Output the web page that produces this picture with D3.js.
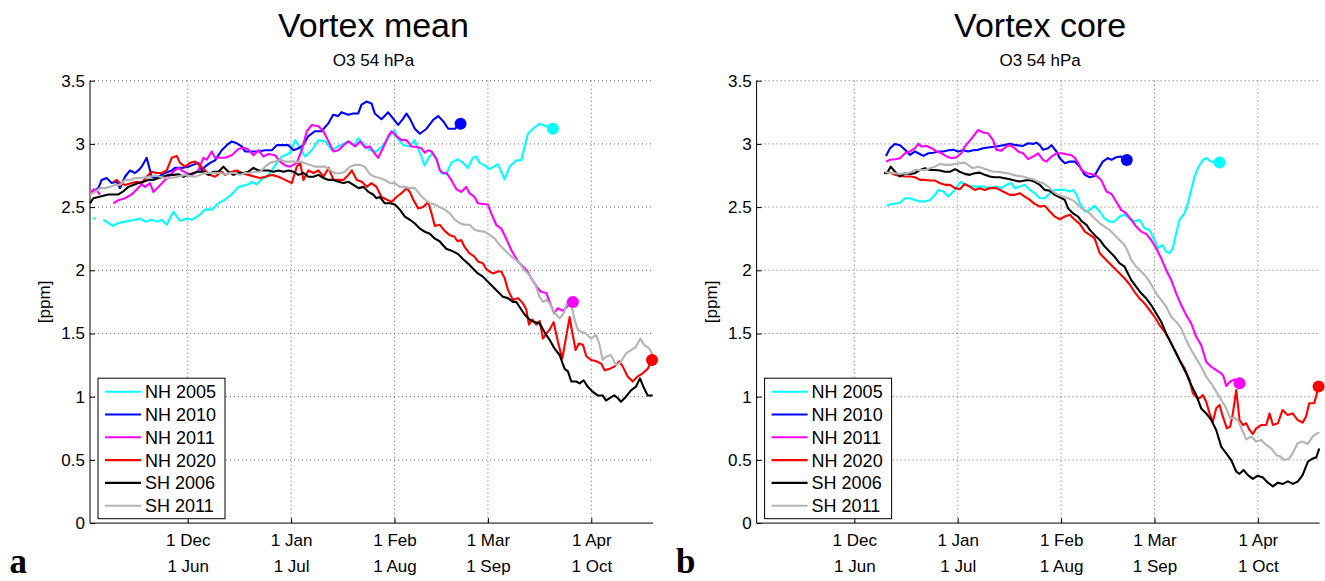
<!DOCTYPE html>
<html>
<head>
<meta charset="utf-8">
<script src="https://cdn.jsdelivr.net/npm/d3@7/dist/d3.min.js"></script>
<style>
  body { margin: 0; background: #fff; }
  text { font-family: "Liberation Sans", Arial, sans-serif; fill: #000; }
  text.letter { font-family: "Liberation Serif", "DejaVu Serif", serif; font-weight: bold; }
</style>
</head>
<body>
<svg id="fig" width="1325" height="581"></svg>
<script>
// x values are days after 1 Dec (NH) / 1 Jun (SH), y values in ppm
// null marks a gap in the record

// ---- Vortex mean ----
const meanNH2005 = [[-28.5,2.41],[-27.5,2.41],[-26.5,null],[-25.3,2.40],[-22.3,2.35],[-21.3,2.37],[-18.8,2.385],[-15.8,2.40],[-14.3,2.41],[-12.8,2.385],[-10.8,2.40],[-9.3,2.385],[-7.8,2.40],[-6.3,2.36],[-4.3,2.465],[-2.3,2.39],[-0.3,2.41],[1.2,2.40],[3.2,2.43],[5.2,2.48],[7.2,2.48],[9.2,2.53],[11.2,2.56],[13.2,2.60],[15.2,2.66],[16.7,2.67],[18.2,2.68],[19.2,2.70],[20.7,2.68],[22.2,2.72],[23.7,2.74],[25.2,2.79],[26.7,2.85],[28.2,2.90],[29.2,2.91],[30.7,2.93],[32.2,3.03],[33.2,2.99],[35.2,2.90],[37.2,2.95],[39.2,3.03],[41.2,3.02],[43.2,2.95],[45.1,2.98],[48.1,3.02],[50.1,2.99],[51.1,3.045],[53.1,2.99],[54.6,2.95],[56.6,2.94],[58.6,2.99],[60.5,3.06],[62.0,3.11],[63.0,3.04],[64.6,2.99],[66.6,2.98],[68.0,3.03],[69.6,2.93],[71.0,2.83],[72.5,2.90],[73.5,2.93],[74.5,2.88],[76.0,2.77],[77.5,2.76],[79.0,2.85],[81.0,2.88],[82.5,2.85],[84.0,2.81],[85.5,2.89],[86.5,2.90],[87.5,2.85],[89.0,2.83],[90.5,2.80],[93.0,2.84],[94.0,2.78],[95.0,2.72],[96.5,2.82],[98.5,2.87],[100.0,2.87],[102.0,3.08],[103.5,3.12],[105.5,3.16],[107.5,3.14],[109.5,3.12]];
const meanNH2010 = [[-28.8,2.62],[-26.8,2.65],[-25.8,2.715],[-24.3,2.73],[-22.8,2.69],[-21.3,2.70],[-20.3,2.65],[-18.8,2.74],[-17.3,2.79],[-15.8,2.77],[-14.8,2.79],[-13.8,2.82],[-12.3,2.89],[-10.8,2.74],[-9.8,2.73],[-8.8,2.74],[-6.8,2.77],[-4.8,2.79],[-3.8,2.81],[-1.8,2.81],[0.2,2.82],[1.2,2.83],[3.2,2.85],[4.2,2.79],[5.2,2.82],[6.7,2.85],[8.2,2.87],[10.2,2.95],[11.7,2.99],[13.2,3.02],[14.7,3.005],[16.2,2.98],[17.2,2.94],[19.2,2.94],[21.2,2.94],[23.2,2.95],[25.2,2.95],[26.7,2.99],[28.7,2.99],[30.2,2.99],[31.7,2.95],[33.2,2.965],[34.6,2.99],[36.1,3.06],[38.1,3.10],[40.1,3.10],[42.1,3.16],[43.6,3.23],[45.1,3.22],[46.1,3.25],[48.1,3.23],[49.6,3.24],[51.1,3.24],[52.1,3.31],[53.6,3.335],[55.1,3.32],[56.1,3.24],[58.1,3.195],[60.1,3.25],[61.6,3.20],[63.1,3.15],[64.6,3.20],[65.6,3.24],[66.6,3.20],[68.1,3.12],[69.6,3.08],[71.6,3.12],[73.6,3.19],[75.1,3.22],[76.6,3.18],[78.1,3.12],[80.1,3.12],[81.8,3.16]];
const meanNH2011 = [[-29.0,2.61],[-28.3,2.64],[-27.3,2.63],[-26.3,2.60],[-24.5,null],[-22.3,2.53],[-20.8,2.555],[-18.8,2.57],[-16.8,2.60],[-15.3,2.64],[-13.8,2.68],[-12.8,2.66],[-11.3,2.69],[-10.3,2.62],[-8.8,2.66],[-7.3,2.70],[-5.8,2.74],[-4.3,2.78],[-2.8,2.81],[-1.8,2.79],[-0.3,2.77],[1.2,2.755],[3.2,2.79],[4.7,2.89],[5.7,2.875],[7.2,2.94],[8.2,2.89],[9.7,2.89],[11.2,2.89],[13.2,2.91],[15.2,2.96],[16.7,2.97],[18.2,2.955],[19.7,2.91],[21.2,2.95],[22.7,2.90],[24.2,2.92],[26.2,2.91],[27.7,2.86],[29.2,2.83],[30.7,2.82],[32.7,2.85],[34.2,2.95],[35.7,3.10],[37.2,3.15],[39.2,3.14],[40.7,3.10],[42.2,3.02],[43.7,2.94],[45.2,2.95],[46.7,2.99],[48.2,3.02],[50.2,2.98],[51.7,3.02],[53.2,2.97],[54.6,2.98],[55.6,2.94],[57.1,2.89],[58.6,2.97],[60.1,3.06],[61.1,3.10],[62.6,3.06],[64.1,3.03],[65.6,3.03],[67.1,2.98],[68.6,2.975],[70.1,2.965],[71.1,2.93],[72.1,2.95],[73.1,2.94],[74.6,2.88],[75.6,2.79],[76.6,2.77],[77.6,2.77],[79.0,2.715],[80.6,2.64],[82.0,2.62],[83.5,2.66],[84.5,2.61],[86.0,2.58],[87.0,2.53],[88.5,2.525],[90.0,2.52],[91.0,2.45],[92.5,2.36],[94.0,2.33],[95.5,2.25],[97.0,2.16],[99.0,2.07],[100.5,2.03],[101.9,1.99],[103.4,1.92],[104.9,1.86],[105.9,1.83],[107.5,1.82],[108.5,1.75],[109.9,1.66],[110.9,1.70],[112.5,1.68],[114.0,1.72],[115.5,1.75]];
const meanNH2020 = [[-22.3,2.70],[-21.3,2.715],[-20.3,2.69],[-18.8,2.675],[-16.8,2.69],[-15.3,2.70],[-13.8,2.69],[-12.3,2.74],[-10.8,2.78],[-9.3,2.77],[-7.8,2.77],[-6.3,2.79],[-4.8,2.89],[-3.3,2.905],[-2.3,2.85],[-0.8,2.82],[0.7,2.85],[2.2,2.86],[3.7,2.83],[5.2,2.79],[6.7,2.755],[8.2,2.74],[10.2,2.78],[11.2,2.755],[13.2,2.78],[14.7,2.79],[16.2,2.77],[18.2,2.755],[20.2,2.74],[21.7,2.73],[23.2,2.74],[25.2,2.755],[27.2,2.74],[29.2,2.715],[31.2,2.69],[32.7,2.82],[33.7,2.85],[34.7,2.715],[36.2,2.79],[37.7,2.77],[39.2,2.79],[40.7,2.74],[42.2,2.81],[43.7,2.715],[45.2,2.715],[46.7,2.715],[48.2,2.755],[49.2,2.79],[50.7,2.715],[52.2,2.70],[53.7,2.66],[55.1,2.69],[56.6,2.66],[58.1,2.58],[59.6,2.56],[61.1,2.54],[62.6,2.58],[64.1,2.61],[65.6,2.65],[66.6,2.62],[67.6,2.56],[69.1,2.49],[70.6,2.50],[72.1,2.54],[73.1,2.45],[74.1,2.35],[75.6,2.36],[77.1,2.31],[78.5,2.28],[80.0,2.265],[80.9,2.23],[82.0,2.24],[82.9,2.19],[84.4,2.135],[85.9,2.11],[87.0,2.07],[88.5,2.055],[89.5,2.01],[90.5,1.99],[91.5,1.975],[93.0,1.99],[94.0,1.99],[95.0,1.94],[96.0,1.845],[97.5,1.765],[99.0,1.78],[100.5,1.74],[101.5,1.69],[102.3,1.57],[103.3,1.61],[104.5,1.57],[105.5,1.60],[106.5,1.46],[107.5,1.50],[108.5,1.53],[109.7,1.59],[111.0,1.435],[112.3,1.30],[113.3,1.45],[114.5,1.63],[115.3,1.51],[116.3,1.37],[117.3,1.42],[118.5,1.41],[119.5,1.32],[121.0,1.29],[122.5,1.28],[124.0,1.26],[125.0,1.21],[126.5,1.22],[128.0,1.24],[129.4,1.28],[130.4,1.24],[131.9,1.16],[133.4,1.12],[134.9,1.16],[136.4,1.185],[137.9,1.22],[139.2,1.29]];
const meanSH2006 = [[-29.3,2.53],[-28.3,2.57],[-26.8,2.58],[-25.3,2.59],[-23.8,2.60],[-22.3,2.60],[-20.8,2.60],[-19.3,2.625],[-17.8,2.66],[-16.3,2.675],[-14.8,2.69],[-13.3,2.70],[-11.8,2.715],[-10.3,2.715],[-8.8,2.73],[-7.3,2.74],[-5.8,2.755],[-4.3,2.755],[-2.8,2.76],[-1.3,2.74],[0.2,2.755],[1.7,2.77],[3.2,2.78],[4.7,2.78],[6.2,2.755],[7.7,2.78],[9.2,2.78],[10.7,2.82],[12.2,2.78],[13.7,2.755],[15.2,2.77],[16.7,2.77],[18.2,2.78],[19.7,2.81],[21.2,2.79],[22.7,2.79],[24.2,2.79],[25.7,2.78],[27.2,2.79],[28.7,2.78],[30.2,2.79],[31.7,2.78],[33.2,2.755],[34.7,2.77],[36.2,2.74],[37.7,2.74],[39.2,2.755],[40.7,2.73],[42.2,2.715],[43.7,2.715],[45.2,2.70],[46.7,2.69],[48.2,2.70],[49.7,2.675],[51.2,2.65],[52.7,2.66],[54.2,2.62],[55.6,2.60],[56.6,2.57],[57.6,2.58],[59.1,2.53],[60.6,2.53],[62.1,2.52],[63.6,2.48],[65.1,2.425],[66.6,2.40],[68.1,2.37],[69.6,2.33],[71.1,2.305],[72.6,2.29],[74.1,2.25],[75.5,2.23],[77.5,2.17],[79.5,2.15],[81.0,2.13],[82.5,2.09],[84.0,2.055],[85.5,2.015],[87.0,1.975],[88.5,1.95],[90.0,1.91],[91.5,1.87],[93.0,1.83],[94.5,1.79],[96.0,1.78],[97.5,1.75],[98.5,1.75],[99.5,1.71],[101.0,1.65],[102.5,1.61],[104.0,1.59],[105.5,1.58],[107.0,1.51],[108.5,1.45],[110.0,1.38],[111.5,1.33],[113.0,1.22],[114.0,1.20],[115.0,1.12],[116.5,1.12],[117.5,1.105],[118.7,1.13],[119.9,1.08],[121.4,1.04],[122.9,1.01],[124.4,1.01],[125.4,0.97],[126.6,0.99],[127.9,1.01],[128.9,0.99],[129.9,0.96],[131.4,1.0],[132.9,1.05],[134.4,1.08],[135.6,1.145],[136.6,1.08],[137.9,1.01],[139.4,1.01]];
const meanSH2011 = [[-29.3,2.60],[-27.8,2.62],[-26.3,2.65],[-24.8,2.65],[-23.3,2.66],[-21.8,2.675],[-20.3,2.675],[-18.8,2.715],[-17.3,2.715],[-15.8,2.73],[-14.3,2.73],[-12.8,2.735],[-11.3,2.74],[-9.8,2.75],[-8.3,2.74],[-6.8,2.73],[-5.3,2.73],[-3.8,2.735],[-2.3,2.745],[-0.8,2.755],[0.7,2.745],[2.2,2.74],[3.7,2.755],[5.2,2.77],[6.7,2.77],[8.2,2.77],[9.7,2.77],[11.2,2.76],[12.7,2.77],[14.2,2.77],[15.7,2.755],[17.2,2.77],[18.7,2.77],[20.2,2.78],[21.7,2.78],[23.2,2.82],[24.7,2.85],[26.2,2.86],[27.7,2.875],[29.2,2.86],[30.7,2.86],[32.2,2.86],[33.7,2.86],[35.2,2.847],[36.7,2.834],[38.2,2.82],[39.7,2.82],[41.2,2.82],[42.6,2.794],[44.1,2.768],[45.6,2.768],[47.1,2.78],[48.6,2.82],[50.1,2.834],[51.6,2.834],[53.1,2.82],[54.6,2.76],[56.1,2.74],[57.6,2.73],[59.1,2.715],[60.6,2.69],[62.1,2.69],[63.6,2.66],[65.1,2.66],[66.6,2.65],[68.1,2.65],[69.6,2.60],[71.1,2.56],[72.6,2.53],[74.1,2.52],[75.6,2.50],[77.1,2.48],[78.6,2.45],[80.1,2.40],[81.6,2.373],[83.0,2.36],[84.5,2.36],[86.0,2.32],[87.5,2.31],[89.0,2.306],[90.5,2.28],[92.0,2.253],[93.5,2.20],[95.0,2.16],[96.5,2.12],[98.0,2.09],[99.5,2.055],[101.0,2.0],[102.5,1.96],[103.5,1.92],[104.5,1.87],[105.5,1.79],[106.5,1.75],[107.5,1.765],[108.5,1.74],[109.5,1.686],[110.5,1.65],[111.5,1.62],[112.7,1.66],[114.0,1.765],[115.0,1.725],[116.0,1.606],[117.0,1.527],[117.9,1.514],[119.4,1.50],[120.9,1.46],[122.4,1.487],[123.4,1.42],[124.4,1.29],[125.4,1.316],[126.9,1.329],[128.4,1.25],[129.9,1.276],[131.4,1.342],[132.9,1.369],[134.4,1.395],[135.7,1.46],[136.9,1.408],[138.4,1.382],[139.4,1.33]];

// ---- Vortex core ----
const coreNH2005 = [[9.7,2.51],[11.2,2.525],[12.7,2.53],[13.7,2.535],[15.2,2.57],[16.7,2.57],[18.2,2.557],[19.7,2.544],[21.2,2.544],[22.7,2.557],[24.2,2.597],[25.2,2.636],[26.7,2.623],[28.2,2.583],[29.7,2.623],[31.1,2.676],[32.1,2.70],[33.1,2.676],[34.6,2.668],[36.6,2.662],[38.6,2.662],[40.6,2.65],[42.6,2.662],[44.1,2.65],[45.6,2.676],[47.1,2.689],[48.1,2.65],[49.6,2.662],[51.1,2.676],[52.6,2.636],[54.1,2.61],[55.6,2.57],[57.1,2.57],[58.6,2.61],[60.1,2.636],[61.6,2.636],[63.1,2.636],[64.6,2.623],[65.6,2.636],[66.6,2.60],[67.6,2.53],[69.1,2.465],[70.6,2.478],[72.0,2.51],[73.6,2.465],[75.0,2.41],[76.5,2.385],[78.0,2.385],[79.5,2.425],[81.0,2.44],[82.5,2.41],[84.0,2.386],[85.5,2.40],[87.0,2.333],[88.5,2.32],[90.0,2.24],[91.0,2.175],[92.3,2.20],[93.5,2.148],[94.5,2.135],[95.5,2.175],[96.5,2.293],[97.5,2.40],[99.0,2.45],[100.0,2.53],[101.0,2.636],[102.0,2.74],[103.0,2.807],[104.5,2.873],[105.5,2.887],[107.0,2.86],[109.5,2.852]];
const coreNH2010 = [[9.5,2.905],[10.7,2.966],[12.2,3.0],[13.7,2.99],[15.2,2.953],[16.7,2.913],[18.2,2.94],[19.2,2.926],[20.7,2.905],[22.2,2.926],[23.7,2.93],[25.2,2.94],[26.7,2.94],[28.2,2.95],[29.7,2.953],[31.1,2.94],[32.6,2.95],[34.1,2.94],[35.6,2.95],[37.1,2.953],[38.6,2.966],[40.6,2.974],[42.6,2.979],[44.6,2.99],[46.6,3.0],[48.6,2.99],[50.6,2.984],[52.1,3.005],[53.6,3.0],[54.6,3.01],[55.6,2.99],[56.6,2.953],[58.1,2.966],[59.1,2.99],[60.6,2.94],[61.6,2.886],[63.1,2.847],[64.6,2.86],[66.1,2.86],[67.6,2.82],[69.1,2.755],[70.6,2.736],[72.0,2.747],[73.0,2.794],[74.5,2.86],[76.0,2.887],[77.1,2.874],[78.5,2.894],[80.0,2.90],[81.7,2.873]];
const coreNH2011 = [[9.5,2.86],[10.7,2.874],[12.2,2.879],[13.7,2.887],[15.2,2.926],[16.7,2.94],[18.2,2.966],[19.2,3.0],[20.2,2.979],[21.7,2.984],[23.2,2.966],[24.7,2.94],[26.2,2.926],[27.7,2.90],[29.2,2.887],[30.6,2.894],[32.1,2.926],[33.1,2.979],[34.6,3.026],[35.6,3.058],[37.1,3.11],[38.6,3.09],[40.1,3.084],[41.6,3.03],[42.6,2.953],[44.1,2.947],[45.6,2.979],[46.6,2.99],[48.1,2.966],[49.1,2.94],[50.6,2.926],[52.1,2.879],[53.6,2.90],[55.1,2.926],[56.6,2.873],[57.6,2.86],[59.1,2.90],[60.6,2.926],[62.1,2.926],[63.6,2.918],[65.1,2.91],[66.1,2.89],[67.1,2.85],[68.1,2.794],[69.6,2.768],[71.1,2.762],[72.6,2.747],[74.0,2.715],[75.6,2.623],[77.1,2.604],[78.5,2.544],[80.0,2.478],[81.5,2.451],[83.0,2.40],[84.5,2.346],[86.0,2.306],[87.5,2.288],[89.0,2.24],[90.5,2.175],[92.0,2.095],[93.5,2.003],[95.0,1.924],[96.5,1.818],[98.0,1.725],[99.5,1.646],[101.0,1.58],[102.5,1.474],[104.0,1.408],[105.5,1.276],[107.0,1.237],[108.5,1.21],[110.0,1.184],[110.7,1.16],[111.5,1.085],[112.7,1.12],[114.0,1.137],[115.5,1.106]];
const coreNH2020 = [[9.5,2.768],[10.7,2.773],[12.2,2.755],[13.7,2.747],[15.2,2.742],[16.7,2.742],[18.2,2.736],[19.7,2.715],[21.2,2.715],[22.7,2.71],[24.2,2.71],[25.7,2.689],[27.2,2.676],[28.7,2.676],[30.2,2.65],[31.6,2.642],[33.1,2.683],[34.6,2.662],[36.1,2.636],[37.6,2.65],[39.1,2.636],[40.6,2.65],[42.6,2.65],[44.6,2.623],[46.6,2.597],[48.1,2.597],[49.6,2.61],[51.1,2.583],[52.6,2.557],[54.1,2.525],[55.6,2.504],[57.1,2.51],[58.6,2.465],[60.1,2.425],[61.6,2.404],[63.1,2.425],[64.6,2.44],[66.1,2.40],[67.6,2.367],[69.1,2.306],[70.6,2.28],[72.0,2.254],[73.6,2.135],[75.0,2.095],[76.5,2.056],[78.0,2.016],[79.5,1.977],[81.0,1.937],[82.5,1.89],[84.0,1.83],[85.5,1.778],[87.0,1.738],[88.5,1.686],[90.0,1.633],[91.5,1.567],[93.0,1.514],[94.5,1.448],[96.0,1.369],[97.5,1.29],[99.0,1.224],[100.5,1.132],[101.5,1.027],[102.5,1.0],[103.5,0.987],[104.5,1.013],[105.5,0.96],[106.5,0.868],[107.5,0.802],[108.5,0.908],[109.5,0.934],[110.5,0.842],[111.7,0.75],[112.7,0.763],[113.5,0.868],[114.5,1.053],[115.5,0.816],[116.5,0.776],[117.5,0.79],[118.5,0.737],[119.5,0.705],[120.5,0.75],[122.0,0.776],[123.5,0.776],[124.5,0.868],[125.5,0.776],[127.0,0.79],[128.4,0.895],[129.9,0.855],[131.4,0.868],[132.9,0.816],[134.4,0.795],[135.4,0.842],[136.4,0.948],[137.9,0.948],[138.4,1.0],[139.2,1.08]];
const coreSH2006 = [[8.9,2.768],[9.9,2.773],[10.9,2.82],[12.2,2.78],[13.7,2.742],[15.2,2.768],[16.7,2.763],[18.2,2.768],[19.7,2.794],[21.2,2.807],[22.7,2.794],[24.2,2.794],[25.7,2.789],[27.2,2.78],[28.7,2.78],[30.2,2.80],[31.6,2.78],[33.1,2.763],[34.6,2.755],[36.1,2.768],[37.6,2.773],[39.1,2.755],[40.6,2.742],[42.1,2.736],[43.6,2.736],[45.1,2.728],[46.6,2.72],[48.1,2.71],[49.6,2.702],[51.1,2.71],[52.6,2.715],[54.1,2.70],[55.6,2.676],[57.1,2.636],[58.6,2.63],[60.1,2.597],[61.6,2.578],[63.1,2.557],[64.1,2.49],[65.6,2.45],[67.1,2.425],[68.1,2.39],[69.6,2.36],[70.6,2.32],[72.0,2.28],[73.6,2.24],[75.0,2.19],[76.5,2.148],[78.0,2.109],[79.5,2.056],[81.0,2.03],[82.0,1.977],[83.0,1.924],[84.5,1.87],[86.0,1.818],[87.5,1.778],[89.0,1.725],[90.5,1.66],[92.0,1.593],[93.5,1.501],[95.0,1.422],[96.5,1.343],[98.0,1.263],[99.5,1.185],[101.0,1.092],[102.5,1.013],[104.0,0.907],[105.5,0.868],[107.0,0.816],[108.5,0.737],[110.0,0.605],[111.5,0.552],[113.0,0.499],[114.5,0.407],[115.5,0.39],[116.7,0.42],[118.0,0.38],[119.5,0.35],[121.0,0.375],[122.5,0.36],[124.0,0.32],[125.5,0.29],[127.0,0.32],[128.5,0.31],[130.0,0.33],[131.5,0.31],[133.0,0.33],[134.4,0.38],[136.0,0.486],[137.5,0.512],[138.5,0.52],[139.4,0.59]];
const coreSH2011 = [[9.2,2.78],[10.7,2.768],[12.2,2.768],[13.7,2.763],[15.2,2.768],[16.7,2.773],[18.2,2.794],[19.7,2.794],[21.2,2.794],[22.7,2.807],[24.2,2.82],[25.7,2.842],[27.2,2.834],[28.7,2.834],[30.2,2.842],[31.6,2.847],[33.1,2.852],[34.1,2.834],[35.6,2.807],[37.1,2.82],[38.6,2.807],[40.1,2.794],[41.6,2.78],[43.1,2.78],[44.6,2.773],[46.1,2.768],[47.6,2.755],[49.1,2.747],[50.6,2.742],[52.1,2.728],[53.6,2.72],[55.1,2.70],[56.6,2.689],[58.1,2.662],[59.6,2.623],[61.1,2.597],[62.6,2.583],[64.1,2.57],[65.6,2.552],[67.1,2.52],[68.1,2.49],[69.6,2.47],[70.6,2.45],[72.0,2.412],[73.6,2.372],[75.0,2.346],[76.5,2.32],[78.0,2.28],[79.5,2.24],[81.0,2.20],[82.0,2.148],[83.0,2.082],[84.5,2.03],[86.0,1.99],[87.5,1.95],[89.0,1.89],[90.5,1.818],[92.0,1.765],[93.5,1.712],[95.0,1.633],[96.5,1.593],[98.0,1.54],[99.5,1.448],[101.0,1.369],[102.5,1.303],[104.0,1.237],[105.5,1.158],[107.0,1.106],[108.5,1.04],[110.0,0.974],[111.5,0.908],[112.7,0.829],[114.0,0.836],[115.3,0.80],[116.5,0.723],[117.5,0.662],[119.0,0.684],[120.5,0.645],[122.0,0.658],[123.5,0.618],[125.0,0.592],[126.5,0.539],[127.9,0.525],[128.9,0.50],[130.4,0.512],[131.4,0.552],[132.9,0.631],[134.4,0.645],[135.9,0.626],[137.4,0.684],[138.9,0.715],[139.4,0.71]];

const seriesNames  = ["NH 2005", "NH 2010", "NH 2011", "NH 2020", "SH 2006", "SH 2011"];
const seriesColors = ["#00ffff", "#0000ff", "#ff00ff", "#ff0000", "#000000", "#b4b4b4"];
const markedSeries = [0, 1, 2, 3]; // NH records end with a dot

const monthTicks = [0, 31, 62, 90, 121];
const nhMonthLabels = ["1 Dec", "1 Jan", "1 Feb", "1 Mar", "1 Apr"];
const shMonthLabels = ["1 Jun", "1 Jul", "1 Aug", "1 Sep", "1 Oct"];
const yTicks = [0, 0.5, 1, 1.5, 2, 2.5, 3, 3.5];
const xDomain = [-29.3, 139.5];
const yDomain = [0, 3.5];

/** One of the two panels */
class Panel {
    constructor(svg, left, title, letter, series) {
        this.margin = {top: 80.7, left: left};
        this.width = 563;
        this.height = 442.4;
        this.title = title;
        this.letter = letter;
        this.series = series;
        this.g = svg.append("g").attr("transform", `translate(${left},${this.margin.top})`);
        this.x = d3.scaleLinear().domain(xDomain).range([0, this.width]);
        this.y = d3.scaleLinear().domain(yDomain).range([this.height, 0]);
    }

    draw() {
        let g = this.g, x = this.x, y = this.y;

        //dotted grid
        g.append("g").selectAll("line").data(yTicks.filter(d => d > 0)).join("line")
            .attr("x1", 0).attr("x2", this.width)
            .attr("y1", d => y(d)).attr("y2", d => y(d))
            .attr("stroke", "#555").attr("stroke-width", 0.9).attr("stroke-dasharray", "1,3");
        g.append("g").selectAll("line").data(monthTicks).join("line")
            .attr("x1", d => x(d)).attr("x2", d => x(d))
            .attr("y1", 0).attr("y2", this.height)
            .attr("stroke", "#555").attr("stroke-width", 0.9).attr("stroke-dasharray", "1,3");

        //axes with inward ticks
        let yAxis = g.append("g")
            .call(d3.axisLeft(y).tickValues(yTicks).tickSizeInner(-5).tickSizeOuter(0)
                .tickPadding(5).tickFormat(d3.format("~g")));
        let xAxis = g.append("g").attr("transform", `translate(0,${this.height})`)
            .call(d3.axisBottom(x).tickValues(monthTicks).tickSizeInner(-5).tickSizeOuter(0)
                .tickFormat((d, i) => nhMonthLabels[i]));
        xAxis.select(".domain").attr("d", `M0,0H${this.width}`);
        yAxis.select(".domain").attr("d", `M0,${this.height}V0`);
        [xAxis, yAxis].forEach(a => {
            a.selectAll("text").attr("font-size", 17).attr("font-family", null);
            a.selectAll(".domain, line").attr("stroke", "#000");
        });
        xAxis.selectAll("text").attr("y", 23).attr("dy", null);
        xAxis.selectAll(".tick").append("text")
            .attr("y", 49).attr("text-anchor", "middle").attr("font-size", 17)
            .attr("fill", "#000").text((d, i) => shMonthLabels[i]);

        //series
        let line = d3.line()
            .defined(d => d[1] !== null)
            .x(d => x(d[0])).y(d => y(d[1]));
        g.append("g").selectAll("path").data(this.series).join("path")
            .attr("d", line)
            .attr("fill", "none")
            .attr("stroke", (d, i) => seriesColors[i])
            .attr("stroke-width", 2.1)
            .attr("stroke-linejoin", "round");

        //end-of-vortex dots
        g.append("g").selectAll("circle").data(markedSeries).join("circle")
            .attr("cx", i => x(this.series[i][this.series[i].length - 1][0]))
            .attr("cy", i => y(this.series[i][this.series[i].length - 1][1]))
            .attr("r", 6)
            .attr("fill", i => seriesColors[i]);

        //titles
        g.append("text").attr("x", this.width / 2 + 2).attr("y", -43.5)
            .attr("text-anchor", "middle").attr("font-size", 34).text(this.title);
        g.append("text").attr("x", this.width / 2 + 2).attr("y", -14.5)
            .attr("text-anchor", "middle").attr("font-size", 17).text("O3 54 hPa");
        g.append("text").attr("transform", `translate(-40,${this.height / 2}) rotate(-90)`)
            .attr("text-anchor", "middle").attr("font-size", 17).text("[ppm]");
        g.append("text").attr("class", "letter").attr("x", -80.5).attr("y", 492.5)
            .attr("font-size", 35).text(this.letter);

        //legend
        let leg = g.append("g").attr("transform", "translate(8,297.5)");
        leg.append("rect").attr("width", 127).attr("height", 140.5)
            .attr("fill", "#fff").attr("stroke", "#000").attr("stroke-width", 1);
        let rows = leg.selectAll("g.row").data(seriesNames).join("g")
            .attr("class", "row")
            .attr("transform", (d, i) => `translate(0,${13.5 + i * 22.8})`);
        rows.append("line").attr("x1", 7).attr("x2", 43)
            .attr("stroke", (d, i) => seriesColors[i]).attr("stroke-width", 2.1);
        rows.append("text").attr("x", 47).attr("y", 6.5).attr("font-size", 18).text(d => d);
    }
}

let svg = d3.select("#fig");
new Panel(svg, 90, "Vortex mean", "a",
    [meanNH2005, meanNH2010, meanNH2011, meanNH2020, meanSH2006, meanSH2011]).draw();
new Panel(svg, 756.6, "Vortex core", "b",
    [coreNH2005, coreNH2010, coreNH2011, coreNH2020, coreSH2006, coreSH2011]).draw();
</script>
</body>
</html>
